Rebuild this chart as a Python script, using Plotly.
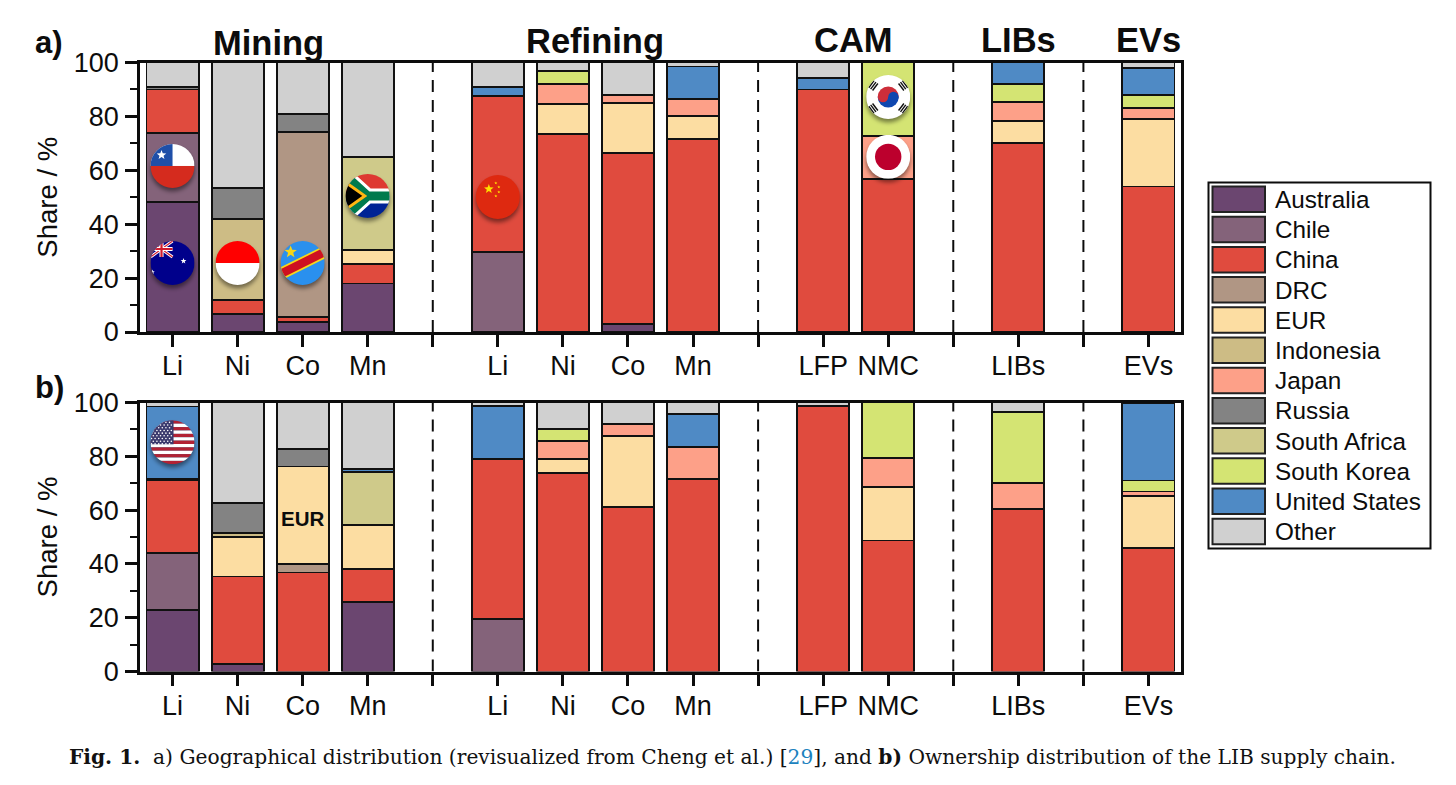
import base64
import math
import plotly.graph_objects as go

# ---------- data ----------
BAR_X = [1, 2, 3, 4, 6, 7, 8, 9, 11, 12, 14, 16]
TICK_VALS = list(range(1, 17))
TICK_TEXT = ["Li", "Ni", "Co", "Mn", "", "Li", "Ni", "Co", "Mn", "", "LFP", "NMC", "", "LIBs", "", "EVs"]
SEPARATORS = [5, 10, 13, 15]
SERIES = ["Australia", "Chile", "China", "DRC", "EUR", "Indonesia", "Japan", "Russia",
          "South Africa", "South Korea", "United States", "Other"]
COLORS = ["#6B4670", "#84637A", "#E04B3E", "#B09684", "#FCDDA2", "#CDBC85", "#FDA088",
          "#838383", "#CFCA8A", "#D4E473", "#4F8AC5", "#D0D0D0"]
N = None
#             Li   Ni   Co   Mn   Li   Ni   Co   Mn   LFP  NMC  LIBs EVs
A_AUSTRALIA = [48.3, 6.8, 3.8, 18, N, N, 3, N, N, N, N, N]
A_CHILE     = [25.7, N, N, N, 29.7, N, N, N, N, N, N, N]
A_CHINA     = [16, 5, 1.8, 7.4, 57.8, 73.5, 63.5, 71.7, 90, 56.7, 70, 54]
A_DRC       = [N, N, 68.7, N, N, N, N, N, N, N, N, N]
A_EUR       = [N, N, N, 4.9, N, 11, 18.5, 8.3, N, N, 8.3, 25]
A_INDONESIA = [N, 30.2, N, N, N, N, N, N, N, N, N, N]
A_JAPAN     = [N, N, N, N, N, 7.5, 3, 6.5, N, 16.1, 7, 4]
A_RUSSIA    = [0.8, 11.6, 6.5, N, N, N, N, N, N, N, N, N]
A_SAFRICA   = [N, N, N, 34.7, N, N, N, N, N, N, N, N]
A_SKOREA    = [N, N, N, N, N, 5, N, N, N, 27.2, 6.7, 5]
A_US        = [N, N, N, N, 3.5, N, N, 12, 4.4, N, 8, 10]
A_OTHER     = [9.2, 46.4, 19.2, 35, 9, 3, 12, 1.5, 5.6, N, N, 2]

B_AUSTRALIA = [22.7, 2.85, N, 26, N, N, N, N, N, N, N, N]
B_CHILE     = [21.3, N, N, N, 19.6, N, N, N, N, N, N, N]
B_CHINA     = [27, 32.45, 36.8, 12.2, 59.4, 73.7, 61.2, 71.6, 98.8, 48.7, 60.3, 45.8]
B_DRC       = [N, N, 3.2, N, N, N, N, N, N, N, N, N]
B_EUR       = [N, 14.7, 36.2, 16.2, N, 5.3, 26.4, N, N, 19.8, N, 19.6]
B_INDONESIA = [N, 1.4, N, N, N, N, N, N, N, N, N, N]
B_JAPAN     = [N, N, N, N, N, 6.6, 4.4, 12, N, 10.8, 9.7, 1.5]
B_RUSSIA    = [0.7, 11.4, 6.5, N, N, N, N, N, N, N, N, N]
B_SAFRICA   = [N, N, N, 19.9, N, N, N, N, N, N, N, N]
B_SKOREA    = [N, N, N, N, N, 4.4, N, N, N, 20.7, 26.6, 4.1]
B_US        = [26.8, N, N, 0.9, 19.8, N, N, 12, N, N, N, 28.7]
B_OTHER     = [1.5, 37.2, 17.3, 24.8, 1.2, 10, 8, 4.4, 1.2, N, 3.4, 0.3]

PANEL_A = [A_AUSTRALIA, A_CHILE, A_CHINA, A_DRC, A_EUR, A_INDONESIA, A_JAPAN, A_RUSSIA,
           A_SAFRICA, A_SKOREA, A_US, A_OTHER]
PANEL_B = [B_AUSTRALIA, B_CHILE, B_CHINA, B_DRC, B_EUR, B_INDONESIA, B_JAPAN, B_RUSSIA,
           B_SAFRICA, B_SKOREA, B_US, B_OTHER]

W, H = 1456, 785
FONT = "Liberation Sans"
INK = "#0c0c0c"


def px(v):
    return v / W


def py(v):
    return 1 - v / H


# ---------- figure ----------
fig = go.Figure()
for panel, (xa, ya) in zip((PANEL_A, PANEL_B), (("x", "y"), ("x2", "y2"))):
    for name, color, vals in zip(SERIES, COLORS, panel):
        fig.add_trace(go.Bar(x=BAR_X, y=vals, name=name, xaxis=xa, yaxis=ya, width=0.8,
                             marker=dict(color=color, line=dict(color="#111111", width=1.9)),
                             showlegend=False))

xaxis = dict(range=[0.5, 16.5], tickmode="array", tickvals=TICK_VALS, ticktext=TICK_TEXT, automargin=False,
             ticks="outside", ticklen=12, tickwidth=2.5, tickcolor=INK, ticklabelstandoff=-4,
             showline=True, linecolor=INK, linewidth=2.5, mirror=True, showgrid=False, zeroline=False,
             tickfont=dict(family=FONT, size=27, color=INK))
yaxis = dict(range=[0, 100], tickmode="array", tickvals=[0, 20, 40, 60, 80, 100], automargin=False,
             ticks="outside", ticklen=12, tickwidth=2.5, tickcolor=INK, ticklabelstandoff=1,
             minor=dict(tickmode="array", tickvals=[10, 30, 50, 70, 90], ticks="outside",
                        ticklen=7, tickwidth=2, tickcolor=INK),
             showline=True, linecolor=INK, linewidth=2.5, mirror=True, showgrid=False, zeroline=False,
             tickfont=dict(family=FONT, size=27, color=INK),
             title=dict(text="Share / %", font=dict(family=FONT, size=27.5, color=INK), standoff=9))

x_dom = [px(140), px(1181)]
fig.update_layout(
    width=W, height=H, margin=dict(l=0, r=0, t=0, b=0, autoexpand=False), paper_bgcolor="white", plot_bgcolor="white",
    barmode="stack", showlegend=False, hovermode=False,
    xaxis=dict(xaxis, domain=x_dom, anchor="y"),
    yaxis=dict(yaxis, domain=[py(332), py(62.5)], anchor="x"),
    xaxis2=dict(xaxis, domain=x_dom, anchor="y2"),
    yaxis2=dict(yaxis, domain=[py(671.5), py(402.5)], anchor="x2"),
)

# separators
for xref, yref in (("x", "y"), ("x2", "y2")):
    for s in SEPARATORS:
        fig.add_shape(type="line", xref=xref, yref=yref, x0=s, x1=s, y0=0, y1=100, layer="above",
                      line=dict(color=INK, width=2, dash="12px,8px"))

# stage titles
for text, x, yp in (("Mining", 2.48, 43), ("Refining", 7.5, 41), ("CAM", 11.47, 40), ("LIBs", 14, 40), ("EVs", 16, 40)):
    fig.add_annotation(text=f"<b>{text}</b>", xref="x", yref="paper", x=x, y=py(yp), showarrow=False,
                       xanchor="center", yanchor="middle", font=dict(family=FONT, size=34.5, color=INK))
for text, yp in (("a)", 43), ("b)", 387)):
    fig.add_annotation(text=f"<b>{text}</b>", xref="paper", yref="paper", x=px(33), y=py(yp), showarrow=False,
                       xanchor="left", yanchor="middle", font=dict(family=FONT, size=31, color=INK))
fig.add_annotation(text="<b>EUR</b>", xref="x2", yref="y2", x=3, y=56.7, showarrow=False,
                   font=dict(family=FONT, size=20.5, color=INK))

# legend
LX0, LX1, LY0, LY1 = 1208.5, 1430.5, 182.5, 548.5
fig.add_shape(type="rect", xref="paper", yref="paper", x0=px(LX0), x1=px(LX1), y0=py(LY0), y1=py(LY1),
              line=dict(color=INK, width=2), fillcolor="white", layer="above")
for i, (name, color) in enumerate(zip(SERIES, COLORS)):
    top = 186.5 + i * 30.2
    fig.add_shape(type="rect", xref="paper", yref="paper", x0=px(1212.5), x1=px(1265), y0=py(top), y1=py(top + 25.5),
                  line=dict(color="#222222", width=2), fillcolor=color, layer="above")
    fig.add_annotation(text=name, xref="paper", yref="paper", x=px(1273), y=py(top + 13), showarrow=False,
                       xanchor="left", yanchor="middle", font=dict(family=FONT, size=24.3, color=INK))

# caption
fig.add_annotation(
    text="<b>Fig. 1.</b>  a) Geographical distribution (revisualized from Cheng et al.) "
         "[<span style='color:#1C82BE'>29</span>], and <b>b)</b> Ownership distribution of the LIB supply chain.",
    xref="paper", yref="paper", x=px(732), y=py(757), showarrow=False, xanchor="center", yanchor="middle",
    font=dict(family="DejaVu Serif", size=20.2, color="#111111"))


# ---------- flags ----------
def star(cx, cy, r, fill):
    pts = []
    for k in range(10):
        rr = r if k % 2 == 0 else r * 0.42
        a = -math.pi / 2 + k * math.pi / 5
        pts.append(f"{cx + rr * math.cos(a):.2f},{cy + rr * math.sin(a):.2f}")
    return f'<polygon points="{" ".join(pts)}" fill="{fill}"/>'


us_stripes = "".join(
    f'<rect x="-22" y="{-22 + i * 44 / 13:.2f}" width="44" height="{44 / 13:.2f}" fill="{"#B22234" if i % 2 == 0 else "#fff"}"/>'
    for i in range(13))
us_stars = "".join(
    f'<circle cx="{-21 + c * 3.6 + (1.8 if r % 2 else 0):.1f}" cy="{-20 + r * 2.7:.1f}" r="0.8" fill="#fff"/>'
    for r in range(9) for c in range(6))


def bar(x, y, angle):
    return (f'<g transform="translate({x} {y}) rotate({angle})">'
            '<rect x="-4.4" y="-0.7" width="8.8" height="1.4" fill="#111"/></g>')


FLAG_ART = {
    "chile": '<rect x="-22" y="-22" width="44" height="22" fill="#fff"/><rect x="-22" y="-22" width="22" height="22" fill="#1F4FA8"/>'
             '<rect x="-22" y="0" width="44" height="22" fill="#D52B1E"/>' + star(-11, -11, 5, "#fff"),
    "australia": '<rect x="-22" y="-22" width="44" height="44" fill="#00008B"/>'
                 '<path d="M-22 -22 L0 -6 M0 -22 L-22 -6" stroke="#fff" stroke-width="3"/>'
                 '<path d="M-22 -22 L0 -6 M0 -22 L-22 -6" stroke="#D01C2E" stroke-width="1.2"/>'
                 '<path d="M-11 -22 V-6 M-22 -14 H0" stroke="#fff" stroke-width="4"/>'
                 '<path d="M-11 -22 V-6 M-22 -14 H0" stroke="#D01C2E" stroke-width="2.2"/>'
                 + star(11, -2, 3, "#fff") + star(-20, 9, 2.4, "#fff"),
    "indonesia": '<rect x="-22" y="-22" width="44" height="22" fill="#FF0000"/><rect x="-22" y="0" width="44" height="22" fill="#fff"/>',
    "drc": '<rect x="-22" y="-22" width="44" height="44" fill="#2A90EE"/>'
           '<path d="M-26 13 L26 -13" stroke="#F7D618" stroke-width="12"/><path d="M-26 13 L26 -13" stroke="#CE1021" stroke-width="8.5"/>'
           + star(-12, -11, 6.5, "#F7D618"),
    "south_africa": '<rect x="-22" y="-22" width="44" height="22" fill="#DE3831"/><rect x="-22" y="0" width="44" height="22" fill="#002395"/>'
                    '<path d="M-22 -20 L0 0 L-22 20 M0 0 H22" stroke="#fff" stroke-width="15" fill="none"/>'
                    '<path d="M-22 -20 L0 0 L-22 20 M0 0 H22" stroke="#007A4D" stroke-width="9" fill="none"/>'
                    '<path d="M-24 -15 L-3 0 L-24 15 Z" fill="#000" stroke="#FFB612" stroke-width="3"/>',
    "china": '<rect x="-22" y="-22" width="44" height="44" fill="#DE2910"/>' + star(-9, -8, 5, "#FFDE00")
             + star(-2, -14, 1.6, "#FFDE00") + star(1, -10, 1.6, "#FFDE00") + star(1, -5, 1.6, "#FFDE00") + star(-2, -1, 1.6, "#FFDE00"),
    "korea": '<rect x="-22" y="-22" width="44" height="44" fill="#fff"/>'
             '<path d="M-10.5 0 A10.5 10.5 0 0 1 10.5 0 Z" fill="#CD2E3A"/><path d="M-10.5 0 A10.5 10.5 0 0 0 10.5 0 Z" fill="#0F47AF"/>'
             '<circle cx="-5.2" cy="0" r="5.2" fill="#CD2E3A"/><circle cx="5.2" cy="0" r="5.2" fill="#0F47AF"/>'
             + "".join(bar(sx * (13 + k * 1.9), sy * (10 + k * 1.4), -sx * sy * 53 + 90 + 90)
                       for sx, sy in ((-1, -1), (1, -1), (-1, 1), (1, 1)) for k in range(3)),
    "japan": '<rect x="-22" y="-22" width="44" height="44" fill="#fff"/><circle r="13.2" fill="#BC002D"/>',
    "usa": us_stripes + '<rect x="-22" y="-22" width="23" height="24" fill="#3C3B6E"/>' + us_stars,
}


def flag_uri(key):
    svg = ('<svg xmlns="http://www.w3.org/2000/svg" width="120" height="120" viewBox="-30 -30 60 60">'
           '<defs><clipPath id="c"><circle r="22"/></clipPath>'
           '<filter id="b" x="-50%" y="-50%" width="200%" height="200%"><feGaussianBlur stdDeviation="2.2"/></filter></defs>'
           '<circle cx="0" cy="3.5" r="22" fill="#000" fill-opacity="0.45" filter="url(#b)"/>'
           f'<g clip-path="url(#c)">{FLAG_ART[key]}</g></svg>')
    return "data:image/svg+xml;base64," + base64.b64encode(svg.encode()).decode()


FLAGS = [("chile", "x", "y", 1, 61.6), ("australia", "x", "y", 1, 25.6), ("indonesia", "x", "y", 2, 25.6),
         ("drc", "x", "y", 3, 25.6), ("south_africa", "x", "y", 4, 50.5), ("china", "x", "y", 6, 50.1),
         ("korea", "x", "y", 12, 87.2), ("japan", "x", "y", 12, 65), ("usa", "x2", "y2", 1, 85.2)]
for key, xr, yr, x, y in FLAGS:
    fig.add_layout_image(source=flag_uri(key), xref=xr, yref=yr, x=x, y=y, sizex=60 / 65, sizey=60 / 2.695,
                         xanchor="center", yanchor="middle", sizing="stretch", layer="above")

fig.write_html("out.html", config={"displayModeBar": False},
               post_script="document.body.style.margin='0';")
